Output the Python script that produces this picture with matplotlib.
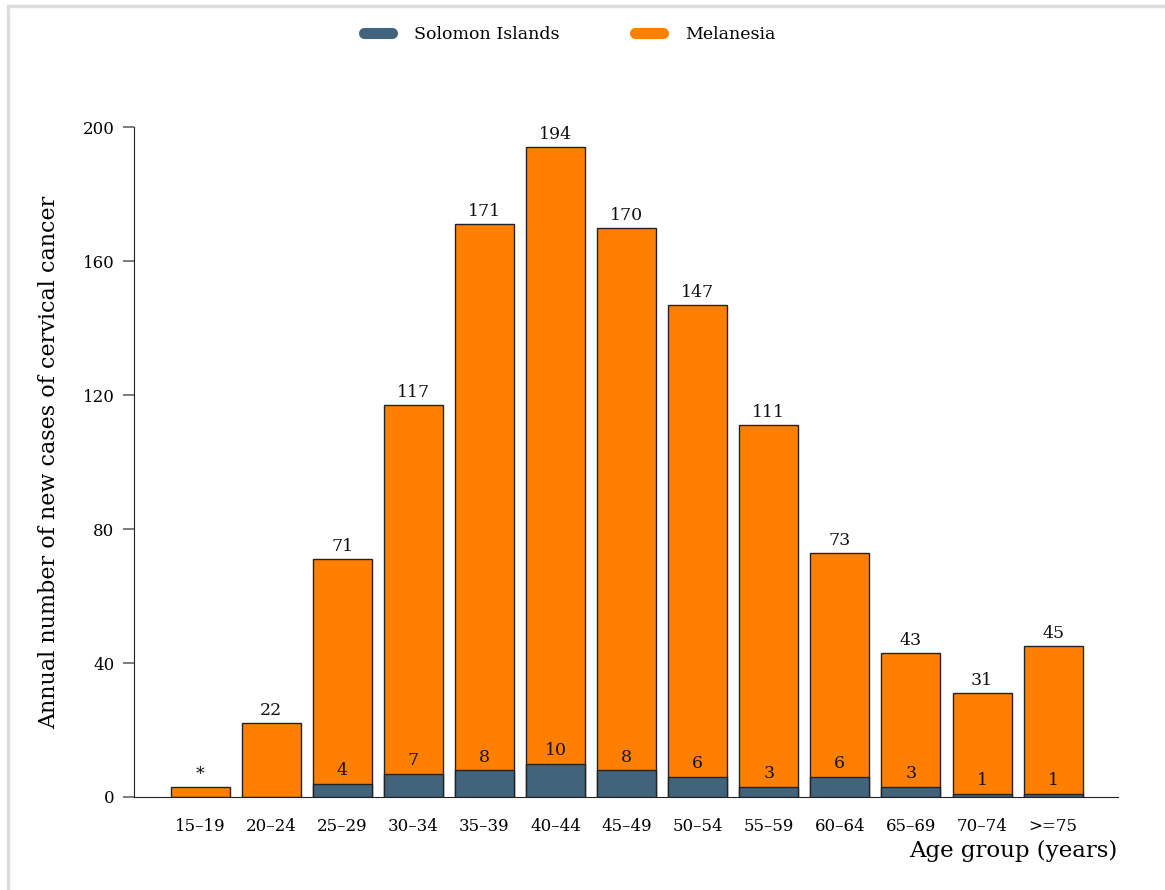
import numpy as np
import matplotlib.pyplot as plt
from matplotlib.lines import Line2D
from matplotlib.patches import Rectangle

plt.rcParams['font.family'] = ['DejaVu Serif']

# data
age_groups = ['15\u201319', '20\u201324', '25\u201329', '30\u201334', '35\u201339', '40\u201344',
              '45\u201349', '50\u201354', '55\u201359', '60\u201364', '65\u201369', '70\u201374', '>=75']
melanesia = [3, 22, 71, 117, 171, 194, 170, 147, 111, 73, 43, 31, 45]
melanesia_labels = ['*', '22', '71', '117', '171', '194', '170', '147', '111', '73', '43', '31', '45']
solomon = [0, 0, 4, 7, 8, 10, 8, 6, 3, 6, 3, 1, 1]

blue = '#41637b'
orange = '#ff8000'

fig = plt.figure(figsize=(11.65, 8.9), dpi=100)
ax = fig.add_axes([0.115, 0.1045, 0.8445, 0.7525])

x = np.arange(len(age_groups))
width = 0.83

ax.bar(x, melanesia, width, color=orange, edgecolor='#222222', linewidth=1.0, zorder=2)
sol_x = [i for i in x if solomon[i] > 0]
sol_v = [solomon[i] for i in sol_x]
ax.bar(sol_x, sol_v, width, color=blue, edgecolor='#222222', linewidth=1.0, zorder=3)

for i in x:
    ax.text(i, melanesia[i] + 1.2, melanesia_labels[i], ha='center', va='bottom',
            fontsize=12.5, color='#111111', zorder=4)
    if solomon[i] > 0:
        ax.text(i, solomon[i] + 1.4, str(solomon[i]), ha='center', va='bottom',
                fontsize=12.5, color='#111111', zorder=4)

ax.set_xlim(-0.93, 12.91)
ax.set_ylim(0, 200)
ax.set_yticks([0, 40, 80, 120, 160, 200])
ax.set_xticks(x)
ax.set_xticklabels(age_groups)

for s in ['top', 'right']:
    ax.spines[s].set_visible(False)
ax.spines['left'].set_color('#222222')
ax.spines['bottom'].set_color('#222222')
ax.tick_params(axis='y', length=8, width=1.2, color='#666666', labelsize=12, pad=6)
ax.tick_params(axis='x', length=0, labelsize=12, pad=15)

ax.set_ylabel('Annual number of new cases of cervical cancer', fontsize=16, labelpad=16)
ax.set_xlabel('Age group (years)', fontsize=16.5, loc='right', labelpad=4)

handles = [Line2D([0], [0], color=blue, lw=8, solid_capstyle='round'),
           Line2D([0], [0], color=orange, lw=8, solid_capstyle='round')]
fig.legend(handles, ['Solomon Islands', 'Melanesia'], loc='center', ncol=2,
           bbox_to_anchor=(0.489, 0.961), frameon=False, fontsize=12.5,
           handlelength=1.6, columnspacing=4.4, handletextpad=1.25)

# light frame around the figure
fig.patches.append(Rectangle((8 / 1165, -0.01), 1.02, 1 - 6 / 890 + 0.01,
                             transform=fig.transFigure, fill=False,
                             edgecolor='#dddddd', linewidth=2.5, zorder=0))

fig.savefig('out.png', dpi=100)
